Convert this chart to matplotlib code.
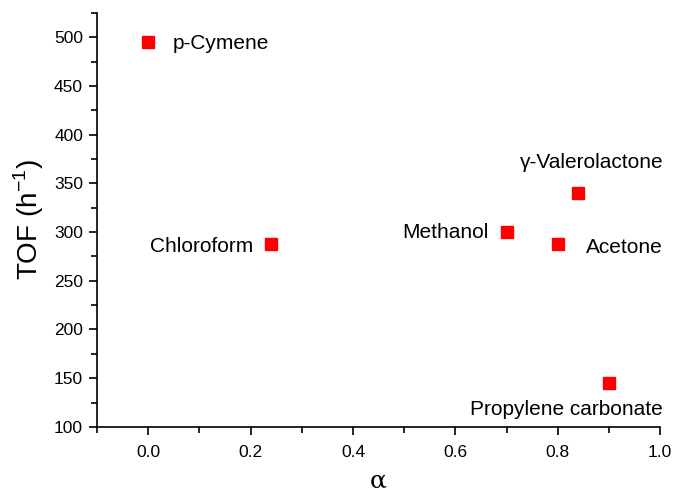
import matplotlib
matplotlib.use("Agg")
import matplotlib.pyplot as plt
from matplotlib.ticker import MultipleLocator

solvents = ["p-Cymene", "Chloroform", "Methanol", "Acetone", "γ-Valerolactone", "Propylene carbonate"]
alpha = [0.0, 0.24, 0.70, 0.80, 0.84, 0.90]
tof = [495, 288, 300, 288, 340, 145]

plt.rcParams['font.family'] = ['Liberation Sans', 'DejaVu Sans']

fig = plt.figure(figsize=(6.73, 4.93), dpi=100)
ax = fig.add_axes([0.144, 0.134, 0.837, 0.840])

ax.plot(alpha, tof, linestyle='none', marker='s', markersize=8.5, color='#ff0000', markeredgecolor='#ff0000')

# label offsets (points) and alignments
offsets = {
    "p-Cymene": (18, -1, 'left', 'center'),
    "Chloroform": (-13, -2, 'right', 'center'),
    "Methanol": (-13, 0, 'right', 'center'),
    "Acetone": (20, -3, 'left', 'center'),
    "γ-Valerolactone": (10, 22, 'center', 'center'),
    "Propylene carbonate": (39, -19, 'right', 'center'),
}
for name, x, y in zip(solvents, alpha, tof):
    dx, dy, ha, va = offsets[name]
    ax.annotate(name, (x, y), xytext=(dx, dy), textcoords='offset points',
                ha=ha, va=va, fontsize=15)

ax.set_xlim(-0.1, 1.0)
ax.set_ylim(100, 525)
ax.xaxis.set_minor_locator(MultipleLocator(0.1))
ax.yaxis.set_major_locator(MultipleLocator(50))
ax.yaxis.set_minor_locator(MultipleLocator(25))
ax.set_xticks([0.0, 0.2, 0.4, 0.6, 0.8, 1.0])
ax.set_xticklabels(["0.0", "0.2", "0.4", "0.6", "0.8", "1.0"])

for s in ['top', 'right']:
    ax.spines[s].set_visible(False)
for s in ['left', 'bottom']:
    ax.spines[s].set_linewidth(1.2)
ax.tick_params(which='major', direction='out', length=6, width=1.2, labelsize=12.5)
ax.tick_params(axis='x', which='major', pad=7)
ax.tick_params(axis='y', which='major', pad=4)
ax.tick_params(which='minor', direction='out', length=4, width=1.2)

ax.set_xlabel("α", fontsize=18, family=['DejaVu Serif'], labelpad=7)
ax.set_ylabel("TOF (h$^{\\mathregular{-1}}$)", fontsize=20, labelpad=6)

fig.savefig("out.png", dpi=100)
